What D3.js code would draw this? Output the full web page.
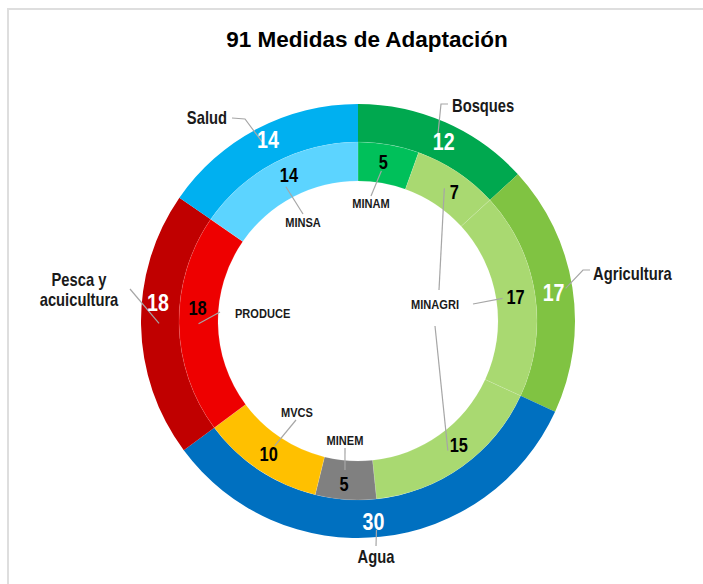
<!DOCTYPE html>
<html>
<head>
<meta charset="utf-8">
<script src="https://cdnjs.cloudflare.com/ajax/libs/d3/7.8.5/d3.min.js"></script>
<style>
  body { margin: 0; background: #fff; }
  svg text { font-family: "Liberation Sans", Arial, sans-serif; font-weight: bold; }
</style>
</head>
<body>
<svg id="chart" width="703" height="584"></svg>
<script>
// Datos: anillo exterior (sectores) e interior (entidades)
var sectores = ["Bosques", "Agricultura", "Agua", "Pesca y acuicultura", "Salud"];
var sectorValores = [12, 17, 30, 18, 14];
var sectorColores = ["#00a84f", "#80c342", "#0070c0", "#c00000", "#00b0f0"];

var entidades = ["MINAM", "MINAGRI", "MINAGRI", "MINAGRI", "MINEM", "MVCS", "PRODUCE", "MINSA"];
var entidadValores = [5, 7, 17, 15, 5, 10, 18, 14];
var entidadColores = ["#00c05a", "#a9d971", "#a9d971", "#a9d971", "#808080", "#ffc000", "#ee0000", "#5cd4ff"];

var titulo = "91 Medidas de Adaptación";

init();

function init(){
	var svg = d3.select("#chart");
	var cx = 358, cy = 321;
	var r0 = 217, r1 = 179, r2 = 140;
	var angosto = 0.82; // letra tipo Arial Narrow

	// marco
	svg.append("path")
		.attr("d", "M8,590 L8,9 L710,9")
		.attr("fill", "none")
		.attr("stroke", "#dedede")
		.attr("stroke-width", 2);

	svg.append("text")
		.attr("x", 367)
		.attr("y", 47)
		.attr("text-anchor", "middle")
		.attr("font-size", 22.5)
		.attr("fill", "#000")
		.text(titulo);

	var g = svg.append("g").attr("transform", "translate(" + cx + "," + cy + ")");

	var pie = d3.pie().sort(null).value(function(d){ return d; });
	var arcExt = d3.arc().innerRadius(r1).outerRadius(r0);
	var arcInt = d3.arc().innerRadius(r2).outerRadius(r1);

	var datosExt = pie(sectorValores);
	var datosInt = pie(entidadValores);

	g.selectAll(".ext").data(datosExt).enter().append("path")
		.attr("class", "ext")
		.attr("d", arcExt)
		.attr("fill", function(d, i){ return sectorColores[i]; });

	g.selectAll(".int").data(datosInt).enter().append("path")
		.attr("class", "int")
		.attr("d", arcInt)
		.attr("fill", function(d, i){ return entidadColores[i]; })
		.attr("stroke", "#fff")
		.attr("stroke-opacity", 0.15)
		.attr("stroke-width", 0.8);

	// posiciones de etiquetas (relativas al centro)
	var extEtiq = [
		{ txt: ["Bosques"], x: 94, y: -209, anchor: "start", linea: [[90,-217],[83,-217]], fin: [0,-3], num: [6,2] },
		{ txt: ["Agricultura"], x: 235, y: -41, anchor: "start", linea: [[232,-51],[225,-51]], fin: [12,-2], num: [0,2] },
		{ txt: ["Agua"], x: 18, y: 242, anchor: "middle", linea: [[18,225]], fin: [-2,12], num: [-5,3] },
		{ txt: ["Pesca y", "acuicultura"], x: -279, y: -35, anchor: "middle", linea: [[-228,-32]], fin: [-1,-1], num: [-2,-22] },
		{ txt: ["Salud"], x: -131, y: -197, anchor: "end", linea: [[-126,-203],[-113,-202]], fin: [-4,-4], num: [2,-6] }
	];
	var intEtiq = [
		{ txt: "MINAM", x: 13, y: -113, anchor: "middle", linea: [[13,-125]], fin: [-4,7], num: [-2,-2] },
		{ txt: "MINAGRI", x: 77, y: -12, anchor: "middle", linea: [[81,-31]], fin: [-2,0], num: [8,4] },
		{ txt: null, linea: [[115,-17]], fin: [-13,2], num: [0,0] },
		{ txt: null, linea: [[77,5]], fin: [-3,0], num: [8,-6] },
		{ txt: "MINEM", x: -13, y: 124, anchor: "middle", linea: [[-13,127]], fin: [-2,-10], num: [-3,4] },
		{ txt: "MVCS", x: -61, y: 96, anchor: "middle", linea: [[-62,99]], fin: [5,-8], num: [-1,0] },
		{ txt: "PRODUCE", x: -123, y: -3, anchor: "start", linea: [[-138,-9]], fin: [0,0], num: [-1,-16] },
		{ txt: "MINSA", x: -55, y: -94, anchor: "middle", linea: [[-55,-107]], fin: [2,7], num: [5,-5] }
	];

	var lineColor = "#a6a6a6";

	function lider(c, e){
		var pts = e.linea.slice();
		pts.push([c[0] + e.fin[0], c[1] + e.fin[1]]);
		g.append("path")
			.attr("d", d3.line()(pts))
			.attr("fill", "none")
			.attr("stroke", lineColor)
			.attr("stroke-width", 1.2);
	}

	// texto angosto: se escala en x alrededor del punto de anclaje
	function texto(x, y, anchor, size, color){
		return g.append("text")
			.attr("transform", "translate(" + x + "," + y + ") scale(" + angosto + ",1)")
			.attr("text-anchor", anchor)
			.attr("font-size", size)
			.attr("fill", color);
	}

	datosExt.forEach(function(d, i){
		var c = arcExt.centroid(d);
		var e = extEtiq[i];
		lider(c, e);
		var t = texto(e.x, e.y, e.anchor, 18, "#1a1a1a");
		e.txt.forEach(function(s, k){
			t.append("tspan").attr("x", 0).attr("dy", k == 0 ? 0 : 20).text(s);
		});
		texto(c[0] + e.num[0], c[1] + e.num[1], "middle", 24, "#fff")
			.attr("dy", "0.36em")
			.text(sectorValores[i]);
	});

	datosInt.forEach(function(d, i){
		var c = arcInt.centroid(d);
		var e = intEtiq[i];
		lider(c, e);
		if (e.txt) {
			texto(e.x, e.y, e.anchor, 13.5, "#1a1a1a").text(e.txt);
		}
		texto(c[0] + e.num[0], c[1] + e.num[1], "middle", 20, "#000")
			.attr("dy", "0.36em")
			.text(entidadValores[i]);
	});
}
</script>
</body>
</html>
